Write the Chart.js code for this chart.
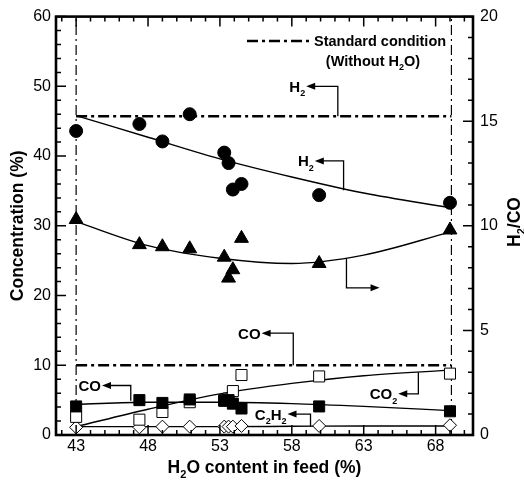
<!DOCTYPE html>
<html>
<head>
<meta charset="utf-8">
<script src="https://cdn.jsdelivr.net/npm/chart.js@4.4.0/dist/chart.umd.min.js"></script>
<style>
  html, body { margin: 0; padding: 0; background: #fff; }
  #wrap { width: 524px; height: 482px; }
</style>
</head>
<body>
<div id="wrap"><canvas id="chart" width="524" height="482"></canvas></div>
<script>
// runs (H2O content in feed, %)
const runX = [43.0, 47.4, 49.0, 50.9, 53.3, 53.6, 53.9, 54.5, 59.9, 69.0];
const h2 = [43.6, 44.6, 42.1, 46.0, 40.5, 39.0, 35.2, 36.0, 34.4, 33.3];
const h2co = [10.3, 9.1, 9.0, 8.9, 8.5, 7.5, 7.9, 9.4, 8.2, 9.8];
const co = [4.1, 5.0, 4.6, 5.1, 4.9, 5.0, 4.5, 3.8, 4.1, 3.4];
const co2 = [2.6, 2.2, 3.3, 4.7, 5.0, 5.2, 6.3, 8.6, 8.4, 8.8];
const c2h2 = [1.1, 1.1, 1.2, 1.2, 1.2, 1.2, 1.2, 1.3, 1.3, 1.4];

// fitted curves
const fitX = [43, 48, 53, 58, 63, 69];
const h2Fit = [45.8, 42.7, 39.6, 37.0, 34.7, 32.6];
const ratioFit = [10.2, 9.05, 8.45, 8.2, 8.6, 9.7];
const coFit = [4.4, 4.7, 4.7, 4.5, 4.1, 3.5];
const co2Fit = [1.2, 3.7, 5.9, 7.4, 8.5, 9.3];
const c2h2Fit = [1.2, 1.2, 1.2, 1.25, 1.3, 1.3];

// standard condition (without H2O)
const stdX = [43, 69.1];
const h2Std = 45.7;
const coStd = 10;

const xTicks = [43, 48, 53, 58, 63, 68];

function pts(xs, ys) {
  return xs.map((x, i) => ({ x: x, y: ys[i] }));
}

const FONT = "'Liberation Sans', Arial, sans-serif";
const dashDot = [11, 4, 3, 4];

// arrow labels: text, tip x, corner x, arrow y, end y (data units, left axis)
const arrows = [
  { t: [['H', 0], ['2', 1]], tip: 59.0, cx: 61.2, cy: 50.0, ey: 45.7 },
  { t: [['H', 0], ['2', 1]], tip: 59.6, cx: 61.6, cy: 39.3, ey: 35.1 },
  { t: [['CO', 0]], tip: 55.9, cx: 58.1, cy: 14.6, ey: 10.0 },
  { t: [['CO', 0]], tip: 44.8, cx: 46.8, cy: 7.1, ey: 4.9 },
  { t: [['CO', 0], ['2', 1]], tip: 65.4, cx: 66.8, cy: 5.9, ey: 9.0 },
  { t: [['C', 0], ['2', 1], ['H', 0], ['2', 1]], tip: 57.7, cx: 59.3, cy: 3.0, ey: 1.2 }
];
// right-pointing arrow for H2/CO
const rightArrow = { cx: 61.8, y0: 25.3, y1: 21.1, tip: 64.1 };

function subText(ctx, parts, x, y, size, align) {
  const big = 'bold ' + size + 'px ' + FONT;
  const small = 'bold ' + Math.round(size * 0.62) + 'px ' + FONT;
  let w = 0;
  parts.forEach(p => { ctx.font = p[1] ? small : big; w += ctx.measureText(p[0]).width; });
  let sx = align == 'right' ? x - w : (align == 'center' ? x - w / 2 : x);
  ctx.textAlign = 'left';
  ctx.textBaseline = 'alphabetic';
  parts.forEach(p => {
    ctx.font = p[1] ? small : big;
    ctx.fillText(p[0], sx, p[1] ? y + size * 0.3 : y);
    sx += ctx.measureText(p[0]).width;
  });
}

function arrowHead(ctx, x, y, dir) {
  ctx.beginPath();
  ctx.moveTo(x, y);
  ctx.lineTo(x - dir * 9, y - 3.5);
  ctx.lineTo(x - dir * 9, y + 3.5);
  ctx.closePath();
  ctx.fill();
}

const decor = {
  id: 'decor',
  afterDatasetsDraw(chart) {
    const ctx = chart.ctx;
    const a = chart.chartArea;
    const sx = chart.scales.x, sy = chart.scales.y, sy2 = chart.scales.y2;
    ctx.save();
    ctx.strokeStyle = '#000';
    ctx.fillStyle = '#000';

    // inward ticks
    ctx.lineWidth = 1.5;
    ctx.beginPath();
    for (let v = 42; v <= 70; v++) {
      const px = sx.getPixelForValue(v);
      const len = (v - 43) % 5 == 0 ? 10 : 5;
      ctx.moveTo(px, a.bottom); ctx.lineTo(px, a.bottom - len);
      ctx.moveTo(px, a.top); ctx.lineTo(px, a.top + len);
    }
    for (let v = 0; v <= 60; v += 2) {
      const py = sy.getPixelForValue(v);
      const len = v % 10 == 0 ? 10 : 5;
      ctx.moveTo(a.left, py); ctx.lineTo(a.left + len, py);
    }
    for (let v = 0; v <= 20; v += 1) {
      const py = sy2.getPixelForValue(v);
      const len = v % 5 == 0 ? 10 : 5;
      ctx.moveTo(a.right, py); ctx.lineTo(a.right - len, py);
    }
    ctx.stroke();

    // frame
    ctx.lineWidth = 2.6;
    ctx.strokeRect(a.left, a.top, a.right - a.left, a.bottom - a.top);

    // arrows with labels
    ctx.lineWidth = 1.3;
    arrows.forEach(r => {
      const tx = sx.getPixelForValue(r.tip), cx = sx.getPixelForValue(r.cx);
      const cy = sy.getPixelForValue(r.cy), ey = sy.getPixelForValue(r.ey);
      ctx.beginPath();
      ctx.moveTo(tx + 6, cy); ctx.lineTo(cx, cy); ctx.lineTo(cx, ey);
      ctx.stroke();
      arrowHead(ctx, tx, cy, -1);
      subText(ctx, r.t, tx - 1, cy + 5.5, 15, 'right');
    });
    {
      const cx = sx.getPixelForValue(rightArrow.cx);
      const y0 = sy.getPixelForValue(rightArrow.y0), y1 = sy.getPixelForValue(rightArrow.y1);
      const tx = sx.getPixelForValue(rightArrow.tip);
      ctx.beginPath();
      ctx.moveTo(cx, y0); ctx.lineTo(cx, y1); ctx.lineTo(tx - 6, y1);
      ctx.stroke();
      arrowHead(ctx, tx, y1, 1);
    }

    // legend
    ctx.lineWidth = 2.4;
    ctx.setLineDash(dashDot);
    ctx.beginPath();
    ctx.moveTo(247, 41); ctx.lineTo(310, 41);
    ctx.stroke();
    ctx.setLineDash([]);
    subText(ctx, [['Standard condition', 0]], 314, 46, 14.5, 'left');
    subText(ctx, [['(Without H', 0], ['2', 1], ['O)', 0]], 373, 66, 14.5, 'center');

    // axis titles
    subText(ctx, [['H', 0], ['2', 1], ['O content in feed (%)', 0]], (a.left + a.right) / 2, 473, 17.5, 'center');
    ctx.save();
    ctx.translate(23, (a.top + a.bottom) / 2);
    ctx.rotate(-Math.PI / 2);
    subText(ctx, [['Concentration (%)', 0]], 0, 0, 17.5, 'center');
    ctx.restore();
    ctx.save();
    ctx.translate(520, 222);
    ctx.rotate(-Math.PI / 2);
    subText(ctx, [['H', 0], ['2', 1], ['/CO', 0]], 0, 0, 17.5, 'center');
    ctx.restore();

    ctx.restore();
  }
};

const fitStyle = { showLine: true, borderColor: '#000', borderWidth: 1.4, pointRadius: 0, cubicInterpolationMode: 'monotone', fill: false };
const stdStyle = { showLine: true, borderColor: '#000', pointRadius: 0, fill: false };

const datasets = [
  { data: pts(runX, h2), pointStyle: 'circle', pointRadius: 6.5, backgroundColor: '#000', borderColor: '#000', yAxisID: 'y' },
  { data: pts(runX, h2co), pointStyle: 'triangle', pointRadius: 8, backgroundColor: '#000', borderColor: '#000', yAxisID: 'y2' },
  { data: pts(runX, co), pointStyle: 'rect', pointRadius: 7.8, backgroundColor: '#000', borderColor: '#000', yAxisID: 'y' },
  { data: pts(runX, co2), pointStyle: 'rect', pointRadius: 7.8, backgroundColor: '#fff', borderColor: '#000', borderWidth: 1, yAxisID: 'y' },
  { data: pts(runX, c2h2), pointStyle: 'rectRot', pointRadius: 6.5, backgroundColor: '#fff', borderColor: '#000', borderWidth: 1, yAxisID: 'y' },
  Object.assign({ data: pts(fitX, h2Fit), yAxisID: 'y' }, fitStyle),
  Object.assign({ data: pts(fitX, ratioFit), yAxisID: 'y2' }, fitStyle),
  Object.assign({ data: pts(fitX, coFit), yAxisID: 'y' }, fitStyle),
  Object.assign({ data: pts(fitX, co2Fit), yAxisID: 'y' }, fitStyle),
  Object.assign({ data: pts(fitX, c2h2Fit), yAxisID: 'y' }, fitStyle),
  Object.assign({ data: pts(stdX, [h2Std, h2Std]), yAxisID: 'y', borderWidth: 2.4, borderDash: dashDot }, stdStyle),
  Object.assign({ data: pts(stdX, [coStd, coStd]), yAxisID: 'y', borderWidth: 2.4, borderDash: dashDot }, stdStyle),
  Object.assign({ data: [{ x: stdX[0], y: 0 }, { x: stdX[0], y: 60 }], yAxisID: 'y', borderWidth: 1.2, borderDash: [10, 4, 2, 4] }, stdStyle),
  Object.assign({ data: [{ x: stdX[1], y: 0 }, { x: stdX[1], y: 60 }], yAxisID: 'y', borderWidth: 1.2, borderDash: [10, 4, 2, 4] }, stdStyle)
];

const tickFont = { family: FONT, size: 16 };

new Chart(document.getElementById('chart').getContext('2d'), {
  type: 'scatter',
  data: { datasets: datasets },
  options: {
    responsive: false,
    animation: false,
    layout: { padding: { top: 15, left: 0, right: 0, bottom: 0 } },
    plugins: { legend: { display: false }, tooltip: { enabled: false } },
    scales: {
      x: {
        type: 'linear', min: 41.6, max: 70.6,
        afterBuildTicks: s => { s.ticks = xTicks.map(v => ({ value: v })); },
        afterFit: s => { s.height = 47; },
        grid: { display: false, drawTicks: false },
        border: { display: false },
        ticks: { font: tickFont, color: '#000', padding: 2, maxRotation: 0 }
      },
      y: {
        position: 'left', min: 0, max: 60,
        afterFit: s => { s.width = 56; },
        grid: { display: false, drawTicks: false },
        border: { display: false },
        ticks: { stepSize: 10, font: tickFont, color: '#000', padding: 5 }
      },
      y2: {
        position: 'right', min: 0, max: 20,
        afterFit: s => { s.width = 51; },
        grid: { display: false, drawTicks: false },
        border: { display: false },
        ticks: { stepSize: 5, font: tickFont, color: '#000', padding: 7 }
      }
    }
  },
  plugins: [decor]
});
</script>
</body>
</html>
